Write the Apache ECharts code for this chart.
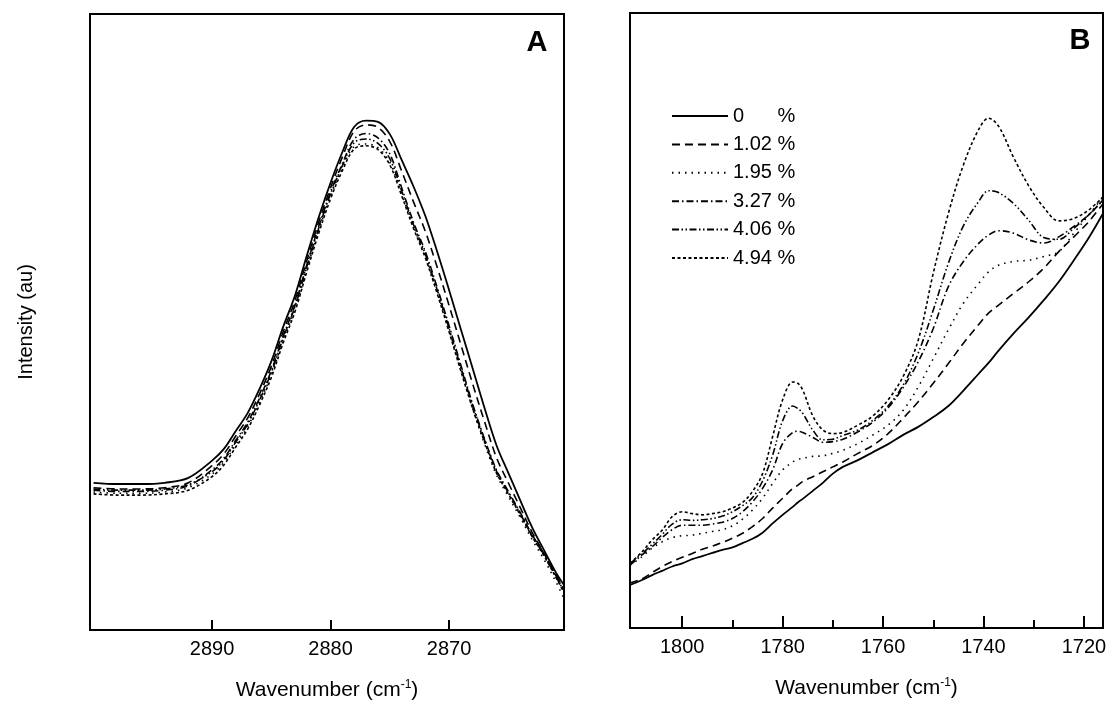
<!DOCTYPE html>
<html><head><meta charset="utf-8">
<script src="https://cdn.jsdelivr.net/npm/echarts@6/dist/echarts.min.js"></script>
<style>html,body{margin:0;padding:0;background:#fff}#c{width:1110px;height:710px}</style>
</head><body><div id="c"></div>
<script>
// Legend / series names
const seriesNames = ['0      %', '1.02 %', '1.95 %', '3.27 %', '4.06 %', '4.94 %'];

// Panel A: wavenumbers (cm-1) and intensities (au)
const wnA = [2900,2898,2896,2894,2892,2890,2889,2888,2887,2886,2885,2884,2883,2882,2881,2880,2879,2878,2877,2876,2875,2874,2873,2872,2871,2870,2869,2868,2867,2866,2865,2864,2863,2862,2861,2860.3];
const a0 = [23.9,23.7,23.7,23.9,24.7,27.5,29.4,32.3,35.2,39.1,43.6,49.2,54.3,60.8,67.0,72.6,77.6,81.7,82.7,82.5,80.5,76.3,72.0,67.2,61.4,55.2,48.8,42.4,36.0,30.0,25.5,21.1,16.7,13.0,9.4,7.3];
const a1 = [23.1,22.9,22.9,23.1,23.9,26.7,28.6,31.5,34.4,38.3,42.8,48.4,53.5,60.0,66.2,71.8,76.8,81.0,82.0,81.6,79.3,74.5,69.5,64.7,58.9,52.7,46.3,39.9,33.8,28.0,23.9,19.9,15.9,12.5,9.0,6.8];
const a2 = [22.4,22.2,22.2,22.4,23.1,25.3,27.2,30.1,33.0,36.9,41.4,47.0,52.1,58.6,64.8,70.4,75.0,78.5,78.9,78.3,75.9,70.8,65.5,60.7,54.9,48.7,42.3,35.9,30.2,25.2,21.7,18.3,14.7,11.5,7.9,5.1];
const a3 = [22.7,22.5,22.5,22.7,23.4,26.0,27.9,30.8,33.7,37.6,42.1,47.7,52.8,59.3,65.5,71.1,75.7,79.7,80.6,79.9,77.3,71.8,66.2,61.4,55.6,49.4,43.0,36.6,31.0,26.0,22.5,19.1,15.5,12.4,8.9,6.5];
const a4 = [22.9,22.7,22.7,22.9,23.6,25.7,27.6,30.5,33.4,37.3,41.8,47.4,52.5,59.0,65.2,70.8,75.4,79.1,79.7,79.0,76.5,71.3,65.8,61.0,55.2,49.0,42.6,36.4,30.8,25.8,22.3,18.9,15.3,12.2,8.7,6.3];
const a5 = [22.1,21.9,21.9,22.1,22.7,24.9,26.8,29.7,32.6,36.5,41.0,46.6,51.7,58.2,64.4,70.0,74.6,78.1,78.6,78.0,75.5,70.5,65.2,60.4,54.6,48.4,42.0,35.9,30.5,25.5,22.1,18.7,15.2,12.1,8.6,6.1];

// Panel B
const wnB = [1810.4,1808,1806,1804,1802,1800,1798,1796,1794,1792,1790,1788,1786,1784,1782,1780,1778,1777,1776,1774,1772,1770,1768,1765,1762,1759,1756,1753,1750,1747,1744,1741,1739,1737,1734,1731,1728,1725,1722,1719,1716.2];
const b0 = [7.0,7.8,8.6,9.3,10.0,10.5,11.2,11.7,12.2,12.7,13.1,13.8,14.5,15.5,17.0,18.4,19.7,20.4,21.0,22.3,23.6,25.1,26.2,27.3,28.6,29.9,31.4,32.7,34.3,36.1,38.6,41.3,43.1,45.1,47.9,50.5,53.3,56.3,59.8,63.5,67.4];
const b1 = [7.3,8.0,9.0,10.0,10.8,11.5,12.1,12.8,13.3,13.9,14.6,15.4,16.5,17.8,19.5,21.1,22.7,23.2,23.8,24.6,25.4,26.2,27.0,28.4,29.7,31.6,34.1,36.8,39.8,43.0,46.3,49.3,51.2,52.5,54.4,56.3,58.5,61.2,63.6,66.1,69.0];
const b2 = [10.2,11.6,13.0,14.0,14.7,15.0,15.1,15.4,15.7,16.0,16.6,17.7,19.2,21.1,23.5,25.7,27.0,27.4,27.6,27.9,28.0,28.4,28.9,30.0,31.4,33.0,35.4,39.2,43.8,48.5,52.8,56.0,57.9,59.0,59.6,59.8,60.4,61.2,64.2,67.2,70.1];
const b3 = [10.2,11.9,13.2,14.7,16.0,16.7,16.7,16.7,16.9,17.2,17.8,18.9,20.5,22.7,25.7,30.0,31.8,32.0,31.8,31.0,30.2,30.3,30.7,31.9,33.5,35.8,39.1,43.3,48.7,55.5,59.6,62.5,63.9,64.6,64.2,63.1,62.6,63.6,65.3,67.2,69.6];
const b4 = [10.5,12.1,13.6,15.2,16.9,17.6,17.5,17.6,17.8,18.2,18.9,19.9,21.2,23.9,28.1,33.7,36.1,35.7,34.9,32.2,30.6,30.7,31.3,32.2,33.8,36.1,39.5,44.7,51.7,59.3,65.4,69.3,71.1,70.8,69.0,66.3,63.5,63.2,65.0,67.2,69.6];
const b5 = [10.5,12.4,14.3,15.9,18.1,18.9,18.6,18.4,18.6,18.9,19.5,20.4,22.2,25.1,31.1,37.1,40.0,39.8,38.7,34.5,32.2,31.6,31.8,33.0,34.5,37.1,40.9,46.8,57.7,67.4,75.3,81.0,82.9,81.6,76.5,71.9,68.4,66.2,66.6,68.0,70.1];

// Tick labels
const ticksA = [2890, 2880, 2870];
const ticksB = [1800, 1780, 1760, 1740, 1720];
const minorTicksB = [1790, 1770, 1750, 1730];

const FONT = "'Liberation Sans', Arial, Helvetica, sans-serif";
const dashTypes = ['solid', [8, 5], [1.5, 5], [7, 3, 1.5, 3], [7, 2.5, 1.5, 2.5, 1.5, 2.5], [3, 2.5]];
const widths = [1.8, 1.6, 1.6, 1.6, 1.6, 1.6];

const seriesA = [a0, a1, a2, a3, a4, a5];
const seriesB = [b0, b1, b2, b3, b4, b5];

function mk(name, xs, ys, k, xi, yi) {
  return {
    name: name, type: 'line', xAxisIndex: xi, yAxisIndex: yi,
    data: xs.map((x, i) => [x, ys[i]]),
    showSymbol: false, symbol: 'none', smooth: 0.35,
    lineStyle: { color: '#000', width: widths[k], type: dashTypes[k] },
    itemStyle: { color: '#000' },
    silent: true
  };
}
const series = [];
seriesA.forEach((s, k) => series.push(mk(seriesNames[k], wnA, s, k, 0, 0)));
seriesB.forEach((s, k) => series.push(mk(seriesNames[k], wnB, s, k, 1, 1)));

const xNameStyle = {
  fontSize: 21, color: '#000', fontFamily: FONT,
  rich: { sup: { fontSize: 12, color: '#000', fontFamily: FONT, padding: [0, 0, 11, 0] }, t: { fontSize: 21, color: '#000', fontFamily: FONT } }
};
const xName = '{t|Wavenumber (cm}{sup|-1}{t|)}';
const plain = v => String(v);

const option = {
  animation: false,
  backgroundColor: '#fff',
  textStyle: { fontFamily: FONT, color: '#000' },
  grid: [
    { left: 90, top: 14, width: 474, height: 616, show: true, borderColor: '#000', borderWidth: 2, backgroundColor: 'transparent' },
    { left: 630, top: 13, width: 473, height: 615, show: true, borderColor: '#000', borderWidth: 2, backgroundColor: 'transparent' }
  ],
  xAxis: [
    {
      gridIndex: 0, type: 'value', inverse: true, min: 2860.3, max: 2900.3, position: 'bottom',
      axisLine: { lineStyle: { color: '#000', width: 2 } },
      axisTick: { inside: true, length: 10, lineStyle: { color: '#000', width: 2 }, customValues: ticksA },
      axisLabel: { customValues: ticksA, formatter: plain, color: '#000', fontSize: 20, fontFamily: FONT, margin: 9 },
      splitLine: { show: false },
      name: xName, nameLocation: 'middle', nameGap: 49, nameTextStyle: xNameStyle
    },
    {
      gridIndex: 1, type: 'value', inverse: true, min: 1716.2, max: 1810.4, position: 'bottom',
      axisLine: { lineStyle: { color: '#000', width: 2 } },
      axisTick: { inside: true, length: 12, lineStyle: { color: '#000', width: 2 }, customValues: ticksB },
      axisLabel: { customValues: ticksB, formatter: plain, color: '#000', fontSize: 20, fontFamily: FONT, margin: 9 },
      splitLine: { show: false },
      name: xName, nameLocation: 'middle', nameGap: 49, nameTextStyle: xNameStyle
    },
    {
      gridIndex: 1, type: 'value', inverse: true, min: 1716.2, max: 1810.4, position: 'bottom', offset: 0,
      axisLine: { show: false },
      axisTick: { inside: true, length: 8, lineStyle: { color: '#000', width: 2 }, customValues: minorTicksB },
      axisLabel: { show: false },
      splitLine: { show: false }
    }
  ],
  yAxis: [
    {
      gridIndex: 0, type: 'value', min: 0, max: 100,
      axisLine: { show: true, lineStyle: { color: '#000', width: 2 } },
      axisTick: { show: false }, axisLabel: { show: false }, splitLine: { show: false },
      name: 'Intensity (au)', nameLocation: 'middle', nameGap: 54,
      nameTextStyle: { fontSize: 20, color: '#000', fontFamily: FONT }
    },
    {
      gridIndex: 1, type: 'value', min: 0, max: 100,
      axisLine: { show: true, lineStyle: { color: '#000', width: 2 } },
      axisTick: { show: false }, axisLabel: { show: false }, splitLine: { show: false }
    }
  ],
  legend: {
    data: seriesNames, orient: 'vertical', left: 671, top: 106, padding: 0,
    itemWidth: 56, itemHeight: 16, itemGap: 8.4,
    itemStyle: { opacity: 0 },
    textStyle: { fontSize: 20, color: '#000', fontFamily: FONT, lineHeight: 16 },
    selectedMode: false
  },
  graphic: [
    { type: 'text', style: { text: 'A', x: 537, y: 43, align: 'center', verticalAlign: 'middle', font: "bold 29px 'Liberation Sans', Arial, sans-serif", fill: '#000' } },
    { type: 'text', style: { text: 'B', x: 1080, y: 41, align: 'center', verticalAlign: 'middle', font: "bold 29px 'Liberation Sans', Arial, sans-serif", fill: '#000' } }
  ],
  series: series
};

const chart = echarts.init(document.getElementById('c'), null, { renderer: 'canvas' });
chart.setOption(option);
</script>
</body></html>
